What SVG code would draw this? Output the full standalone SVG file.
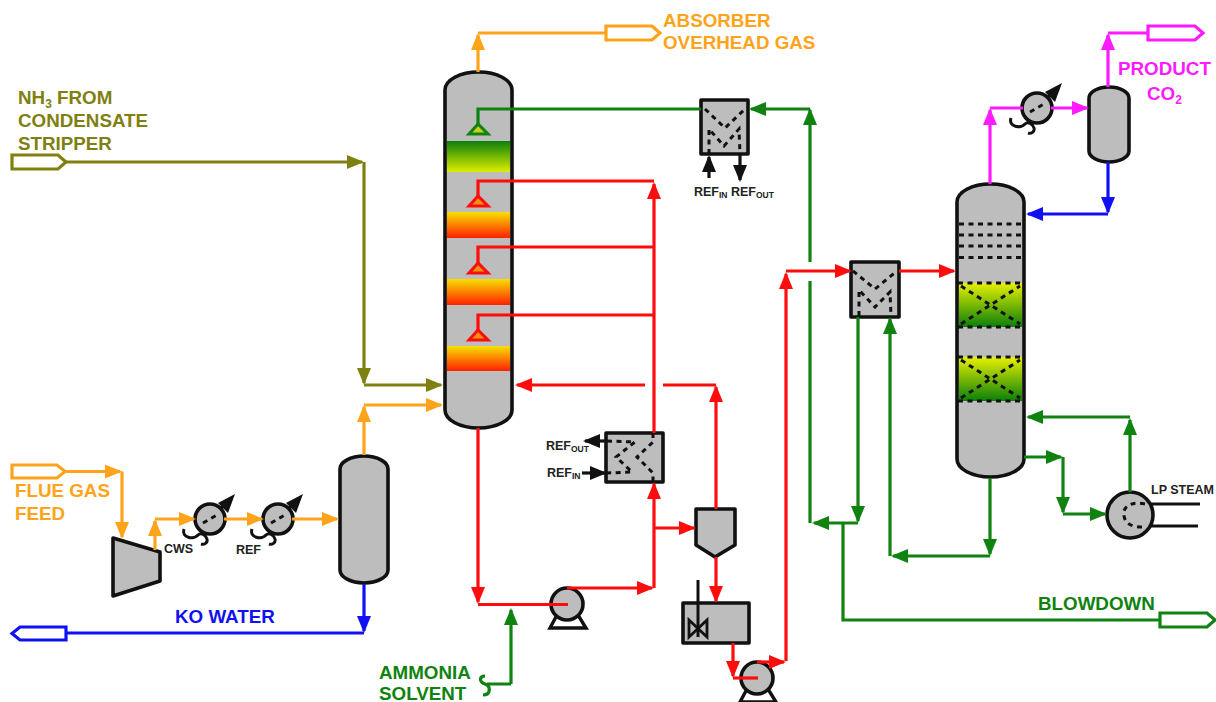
<svg xmlns="http://www.w3.org/2000/svg" width="1216" height="702" viewBox="0 0 1216 702">
<style>
.v{fill:#bdbdbd;stroke:#111;stroke-width:3.6;stroke-linejoin:round}
.d{fill:none;stroke:#111;stroke-width:3;stroke-dasharray:5 4.5}
.k{fill:none;stroke:#111;stroke-width:3}
path.c{fill:none;stroke-width:3.2;stroke-linejoin:miter}
.o{stroke:#ffa31a;marker-end:url(#ao)}
.r{stroke:#ff0d0d;marker-end:url(#ar)}
.g{stroke:#0f820f;marker-end:url(#ag)}
.b{stroke:#1010f5;marker-end:url(#ab)}
.m{stroke:#ff1aff;marker-end:url(#am)}
.l{stroke:#808010;marker-end:url(#al)}
.a{stroke:#111;marker-end:url(#aa)}
path.n{marker-end:none}
.t{fill:#fff;stroke-width:3.2;stroke-linejoin:miter}
text{font-family:"Liberation Sans",Arial,sans-serif;font-weight:bold;font-size:18.8px}
text.s{font-size:12.5px;fill:#222}
tspan.sb{font-size:8.5px}
tspan.sc{font-size:12px}
</style>
<defs>
<marker id="ao" markerUnits="userSpaceOnUse" markerWidth="20" markerHeight="16" refX="15" refY="7.5" orient="auto"><path d="M0,0.5L17,7.5L0,14.5Z" fill="#ffa31a"/></marker>
<marker id="ar" markerUnits="userSpaceOnUse" markerWidth="20" markerHeight="16" refX="15" refY="7.5" orient="auto"><path d="M0,0.5L17,7.5L0,14.5Z" fill="#ff0d0d"/></marker>
<marker id="ag" markerUnits="userSpaceOnUse" markerWidth="20" markerHeight="16" refX="15" refY="7.5" orient="auto"><path d="M0,0.5L17,7.5L0,14.5Z" fill="#0f820f"/></marker>
<marker id="ab" markerUnits="userSpaceOnUse" markerWidth="20" markerHeight="16" refX="15" refY="7.5" orient="auto"><path d="M0,0.5L17,7.5L0,14.5Z" fill="#1010f5"/></marker>
<marker id="am" markerUnits="userSpaceOnUse" markerWidth="20" markerHeight="16" refX="15" refY="7.5" orient="auto"><path d="M0,0.5L17,7.5L0,14.5Z" fill="#ff1aff"/></marker>
<marker id="al" markerUnits="userSpaceOnUse" markerWidth="20" markerHeight="16" refX="15" refY="7.5" orient="auto"><path d="M0,0.5L17,7.5L0,14.5Z" fill="#808010"/></marker>
<marker id="aa" markerUnits="userSpaceOnUse" markerWidth="20" markerHeight="16" refX="15" refY="7.5" orient="auto"><path d="M0,0.5L17,7.5L0,14.5Z" fill="#111"/></marker>
<linearGradient id="gy" x1="0" y1="0" x2="0" y2="1"><stop offset="0" stop-color="#0a800a"/><stop offset="1" stop-color="#e0ee00"/></linearGradient>
<linearGradient id="yr" x1="0" y1="0" x2="0" y2="1"><stop offset="0" stop-color="#f8e000"/><stop offset="1" stop-color="#ff2000"/></linearGradient>
<linearGradient id="yg" x1="0" y1="0" x2="0" y2="1"><stop offset="0" stop-color="#e8f000"/><stop offset="1" stop-color="#0a800a"/></linearGradient>
<g id="xch">
<circle class="v" r="15"/>
<path class="d" d="M-7,4L7,-4" stroke-dasharray="5 4"/>
<path class="k" d="M10,-10L21,-19"/>
<path d="M25,-25L8,-16L18,-6Z" fill="#111"/>
<path class="k" d="M-26,10C-29,19 -16,21 -12,16C-9,13 -4,16 -3,20C-2,24 -6,26 -9,25M-9,15L-6,13"/>
</g>
<g id="pump">
<path d="M-10,11L-17,24H19L11,11Z" fill="#fff" stroke="#111" stroke-width="3.4"/>
<circle class="v" r="16"/>
</g>
</defs>
<rect width="1216" height="702" fill="#fff"/>

<g id="absorber">
<path class="v" d="M445,90A33.5,18 0 0 1 512,90V410A33.5,18 0 0 1 445,410Z"/>
<rect x="447" y="141" width="63" height="31" fill="url(#gy)"/>
<rect x="447" y="212" width="63" height="26" fill="url(#yr)"/>
<rect x="447" y="279" width="63" height="26" fill="url(#yr)"/>
<rect x="447" y="346" width="63" height="25" fill="url(#yr)"/>
</g>
<g id="distributors">
<path d="M478,124L469,134H488Z" fill="#c8d020" stroke="#0f820f" stroke-width="3"/>
<path d="M478,196L469,206H488Z" fill="#f09010" stroke="#ff0d0d" stroke-width="3"/>
<path d="M478,263L469,273H488Z" fill="#f09010" stroke="#ff0d0d" stroke-width="3"/>
<path d="M478,330L469,340H488Z" fill="#f09010" stroke="#ff0d0d" stroke-width="3"/>
</g>
<g id="separator"><path class="v" d="M340,469A24,13 0 0 1 388,469V570A24,13 0 0 1 340,570Z"/></g>
<g id="compressor"><path class="v" d="M113,538L160,552V581L113,596Z"/></g>
<g id="cooler-cws"><use href="#xch" x="210" y="519"/></g>
<g id="cooler-ref"><use href="#xch" x="278" y="519"/></g>
<g id="cooler-co2"><use href="#xch" x="1037" y="108"/></g>
<g id="hx-top">
<rect class="v" x="701" y="100" width="47" height="54"/>
<path class="d" d="M705,109L725,128L745,109M709,154V129L724,146L739,129L740,154"/>
</g>
<g id="hx-ref">
<rect class="v" x="606" y="433" width="57" height="49"/>
<path class="d" d="M607,441L635,442L616,457L632,472L607,473M653,433V442L637,457L653,473V482"/>
</g>
<g id="hx-cross">
<rect class="v" x="851" y="262" width="48" height="55"/>
<path class="d" d="M853,271L875,289L897,271M859,316V290L875,307L890,292L891,316"/>
</g>
<g id="hopper"><path class="v" d="M696,509H735V545L715,557L696,545Z"/></g>
<g id="tank">
<rect class="v" x="683" y="603" width="66" height="40"/>
<path d="M689,620L707,637V620L689,637Z" fill="none" stroke="#111" stroke-width="2.8"/>
<path class="k" d="M698,580V637"/>
</g>
<g id="pump-1"><use href="#pump" x="567" y="604"/></g>
<g id="pump-2"><use href="#pump" x="757" y="678"/></g>
<g id="stripper">
<path class="v" d="M957,202A33.5,18 0 0 1 1024,202V459A33.5,18 0 0 1 957,459Z"/>
<rect x="959" y="283" width="63" height="44" fill="url(#yg)"/>
<rect x="959" y="357" width="63" height="44" fill="url(#yg)"/>
<path class="d" d="M959,224H1022M959,235H1022M959,246H1022M959,257.5H1022M958,283H1023M958,327H1023M958,357H1023M958,401H1023M961,286L1020,324M961,324L1020,286M961,360L1020,398M961,398L1020,360"/>
</g>
<g id="drum"><path class="v" d="M1089,98A20,11 0 0 1 1129,98V151A20,11 0 0 1 1089,151Z"/></g>
<g id="reboiler">
<circle class="v" cx="1130" cy="515" r="23"/>
<path class="d" d="M1145,504C1128,500 1122,510 1124,516C1125,522 1130,528 1145,527"/>
<path class="k" d="M1151,504H1200M1151,526H1198"/>
</g>
<g id="terminals">
<path class="t" stroke="#ffa31a" d="M606,26H652L660,33L652,40H606Z"/>
<path class="t" stroke="#808010" d="M12,155H58L66,162L58,169H12Z"/>
<path class="t" stroke="#ffa31a" d="M12,465H57L65,471.5L57,478H12Z"/>
<path class="t" stroke="#1010f5" d="M66,627H20L12,633.5L20,640H66Z"/>
<path class="t" stroke="#0f820f" d="M1160,613H1207L1215,620L1207,627H1160Z"/>
<path class="t" stroke="#ff1aff" d="M1148,26H1195L1203,33L1195,40H1148Z"/>
</g>

<g id="connectors">
<path class="c o" d="M478,72V35"/><path class="c o n" d="M478,33H606"/>
<path class="c l" d="M66,162H362"/><path class="c l" d="M364,162V383"/><path class="c l" d="M364,385H441"/>
<path class="c o" d="M65,471.5H120"/><path class="c o" d="M122,471.5V537"/>
<path class="c o" d="M155,550V521"/><path class="c o" d="M155,519H194"/><path class="c o" d="M224,519H262"/><path class="c o" d="M292,519H337"/>
<path class="c o" d="M364,455V407"/><path class="c o" d="M364,405H441"/>
<path class="c b" d="M364,584V631"/><path class="c b n" d="M364,633H66"/>
<path class="c g" d="M810,109H751"/>
<path class="c g n" d="M701,109H478V124"/>
<path class="c r n" d="M654,181H478V196"/><path class="c r n" d="M654,247H478V263"/><path class="c r n" d="M654,315H478V330"/>
<path class="c r" d="M654,433V184"/>
<path class="c r" d="M716,509V387"/><path class="c r n" d="M716,385H663"/><path class="c r" d="M645,385H517"/>
<path class="c r" d="M478,428V602"/><path class="c r n" d="M478,604.5H568"/>
<path class="c g" d="M511,684V610"/><path class="c g n" d="M511,684H487M485,676C479,676 479,682 485,684C491,686 491,695 483,695"/>
<path class="c r" d="M567,588H652"/><path class="c r" d="M654,588V484"/><path class="c r" d="M654,528H694"/>
<path class="c r" d="M716,557V601"/>
<path class="c r" d="M733,643V676"/><path class="c r n" d="M733,678H758"/>
<path class="c r" d="M757,662H784"/><path class="c r" d="M786,661V274"/><path class="c r" d="M786,271H850"/><path class="c r" d="M899,271H954"/>
<path class="c g" d="M810,262V110"/><path class="c g n" d="M810,281V523"/>
<path class="c g" d="M858,523H814"/><path class="c g" d="M858,317V521"/>
<path class="c g n" d="M843,523V620H1160"/>
<path class="c g" d="M890,556V319"/><path class="c g" d="M990,556H893"/><path class="c g" d="M990,478V554"/>
<path class="c g" d="M1130,492V420"/><path class="c g" d="M1130,417H1028"/>
<path class="c g" d="M1024,457H1061"/><path class="c g" d="M1063,457V512"/><path class="c g" d="M1063,514H1105"/>
<path class="c m" d="M990,184V110"/><path class="c m n" d="M990,108H1023"/><path class="c m" d="M1051,108H1087"/>
<path class="c m" d="M1108,87V35"/><path class="c m n" d="M1108,33H1148"/>
<path class="c b" d="M1108,162V212"/><path class="c b" d="M1108,214H1028"/>
<path class="c a" d="M709,178V157"/><path class="c a" d="M740,154V180"/>
<path class="c a" d="M606,441H585"/><path class="c a" d="M582,473H605"/>
</g>

<g id="labels">
<text x="663" y="27" fill="#ffa31a">ABSORBER</text>
<text x="663" y="49" fill="#ffa31a">OVERHEAD GAS</text>
<text x="18" y="104" fill="#808010">NH<tspan class="sc" dy="4">3</tspan><tspan dy="-4"> FROM</tspan></text>
<text x="18" y="127" fill="#808010">CONDENSATE</text>
<text x="18" y="150" fill="#808010">STRIPPER</text>
<text x="15" y="497" fill="#ffa31a">FLUE GAS</text>
<text x="15" y="520" fill="#ffa31a">FEED</text>
<text x="175" y="623" fill="#1010f5">KO WATER</text>
<text x="379" y="679" fill="#0f820f">AMMONIA</text>
<text x="379" y="700" fill="#0f820f">SOLVENT</text>
<text x="1038" y="610" fill="#0f820f">BLOWDOWN</text>
<text x="1118" y="75" fill="#ff1aff">PRODUCT</text>
<text x="1147" y="100" fill="#ff1aff">CO<tspan class="sc" dy="4">2</tspan></text>
<text class="s" x="164" y="553">CWS</text>
<text class="s" x="236" y="554">REF</text>
<text class="s" x="546" y="450">REF<tspan class="sb" dy="2">OUT</tspan></text>
<text class="s" x="547" y="477">REF<tspan class="sb" dy="2">IN</tspan></text>
<text class="s" x="694" y="196">REF<tspan class="sb" dy="2">IN</tspan></text>
<text class="s" x="731" y="196">REF<tspan class="sb" dy="2">OUT</tspan></text>
<text class="s" x="1151" y="494">LP STEAM</text>
</g>
</svg>
